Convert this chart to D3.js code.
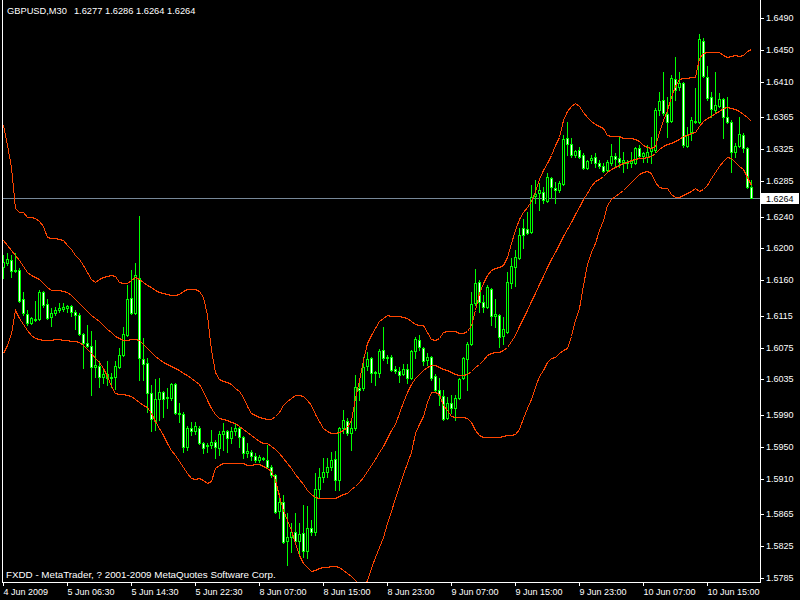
<!DOCTYPE html>
<html><head><meta charset="utf-8">
<script src="https://cdn.jsdelivr.net/npm/d3@7"></script>
<style>
html,body{margin:0;padding:0;background:#000;}
svg{display:block;}
</style></head><body>
<svg id="c" width="800" height="600"></svg>
<script>
const symbol = "GBPUSD,M30";
const footer = "FXDD - MetaTrader, ? 2001-2009 MetaQuotes Software Corp.";

const openP = [
1.6177,1.6182,1.6185,1.6173,1.6173,1.6136,1.6117,1.6106,1.6111,1.6111,
1.6145,1.6130,1.6114,1.6119,1.6122,1.6124,1.6125,1.6127,1.6120,1.6116,
1.6092,1.6081,1.6077,1.6051,1.6052,1.6038,1.6042,1.6037,1.6038,1.6051,
1.6066,1.6091,1.6138,1.6119,1.6163,1.6061,1.6056,1.6018,1.5983,1.6010,
1.6019,1.6012,1.6012,1.6029,1.5993,1.5991,1.5950,1.5974,1.5970,1.5974,
1.5955,1.5951,1.5952,1.5956,1.5949,1.5966,1.5970,1.5961,1.5970,1.5974,
1.5962,1.5942,1.5944,1.5938,1.5933,1.5936,1.5933,1.5925,1.5914,1.5869,
1.5880,1.5831,1.5836,1.5842,1.5831,1.5841,1.5819,1.5848,1.5843,1.5897,
1.5912,1.5918,1.5925,1.5935,1.5908,1.5974,1.5983,1.5967,1.5974,1.6024,
1.6024,1.6052,1.6062,1.6043,1.6043,1.6072,1.6063,1.6063,1.6048,1.6046,
1.6042,1.6048,1.6037,1.6071,1.6085,1.6075,1.6059,1.6063,1.6039,1.6022,
1.6014,1.5986,1.6005,1.5999,1.6012,1.6037,1.6061,1.6080,1.6131,1.6158,
1.6133,1.6126,1.6149,1.6115,1.6116,1.6090,1.6095,1.6156,1.6177,1.6188,
1.6226,1.6225,1.6221,1.6266,1.6270,1.6271,1.6260,1.6289,1.6276,1.6274,
1.6281,1.6339,1.6332,1.6318,1.6324,1.6318,1.6301,1.6311,1.6315,1.6308,
1.6304,1.6299,1.6308,1.6316,1.6314,1.6309,1.6309,1.6308,1.6308,1.6327,
1.6316,1.6315,1.6323,1.6324,1.6374,1.6387,1.6369,1.6361,1.6413,1.6403,
1.6408,1.6329,1.6347,1.6359,1.6359,1.6461,1.6416,1.6391,1.6374,1.6379,
1.6388,1.6366,1.6359,1.6322,1.6329,1.6343,1.6327,1.6277];

const highP = [
1.6192,1.6194,1.6192,1.6194,1.6175,1.6145,1.6122,1.6114,1.6134,1.6148,
1.6146,1.6136,1.6125,1.6126,1.6131,1.6131,1.6129,1.6129,1.6122,1.6119,
1.6093,1.6104,1.6096,1.6085,1.6058,1.6047,1.6058,1.6043,1.6058,1.6075,
1.6101,1.6154,1.6173,1.6182,1.6241,1.6087,1.6062,1.6028,1.6035,1.6037,
1.6020,1.6024,1.6031,1.6031,1.6005,1.5994,1.5976,1.5981,1.5981,1.5976,
1.5956,1.5955,1.5971,1.5959,1.5970,1.5980,1.5971,1.5975,1.5980,1.5975,
1.5964,1.5955,1.5946,1.5942,1.5940,1.5937,1.5952,1.5927,1.5916,1.5892,
1.5889,1.5867,1.5854,1.5867,1.5854,1.5877,1.5875,1.5858,1.5917,1.5923,
1.5936,1.5936,1.5944,1.5945,1.5975,1.5996,1.5986,1.5986,1.6040,1.6034,
1.6063,1.6070,1.6063,1.6046,1.6073,1.6101,1.6066,1.6066,1.6052,1.6051,
1.6054,1.6054,1.6072,1.6088,1.6091,1.6076,1.6068,1.6064,1.6042,1.6037,
1.6022,1.6013,1.6015,1.6015,1.6037,1.6063,1.6082,1.6145,1.6174,1.6160,
1.6141,1.6154,1.6150,1.6136,1.6117,1.6114,1.6170,1.6188,1.6198,1.6226,
1.6237,1.6246,1.6280,1.6286,1.6282,1.6277,1.6295,1.6290,1.6284,1.6285,
1.6343,1.6359,1.6339,1.6324,1.6328,1.6320,1.6311,1.6318,1.6320,1.6311,
1.6308,1.6311,1.6332,1.6320,1.6340,1.6322,1.6311,1.6322,1.6328,1.6330,
1.6322,1.6330,1.6340,1.6377,1.6397,1.6422,1.6391,1.6419,1.6441,1.6422,
1.6410,1.6353,1.6366,1.6402,1.6470,1.6465,1.6430,1.6397,1.6422,1.6396,
1.6390,1.6391,1.6362,1.6333,1.6366,1.6345,1.6328,1.6286];

const lowP = [
1.6163,1.6179,1.6164,1.6170,1.6133,1.6116,1.6104,1.6105,1.6109,1.6110,
1.6126,1.6111,1.6102,1.6116,1.6120,1.6121,1.6120,1.6115,1.6098,1.6091,
1.6049,1.6076,1.6015,1.6038,1.6025,1.6030,1.6028,1.6025,1.6023,1.6049,
1.6064,1.6090,1.6117,1.6117,1.6034,1.6034,1.5994,1.5970,1.5971,1.5984,
1.5988,1.5999,1.6009,1.5991,1.5981,1.5944,1.5946,1.5965,1.5966,1.5954,
1.5942,1.5944,1.5949,1.5936,1.5940,1.5946,1.5944,1.5955,1.5965,1.5950,
1.5936,1.5937,1.5933,1.5931,1.5931,1.5933,1.5923,1.5912,1.5867,1.5860,
1.5829,1.5801,1.5818,1.5829,1.5816,1.5811,1.5810,1.5839,1.5839,1.5887,
1.5906,1.5912,1.5921,1.5896,1.5896,1.5967,1.5965,1.5946,1.5971,1.6009,
1.6022,1.6047,1.6032,1.6028,1.6038,1.6059,1.6056,1.6046,1.6043,1.6032,
1.6040,1.6030,1.6035,1.6062,1.6072,1.6053,1.6053,1.6034,1.6020,1.6003,
1.5984,1.5985,1.5993,1.5984,1.6010,1.6035,1.6022,1.6078,1.6129,1.6120,
1.6120,1.6125,1.6104,1.6101,1.6076,1.6080,1.6093,1.6150,1.6153,1.6187,
1.6201,1.6218,1.6219,1.6257,1.6248,1.6257,1.6258,1.6264,1.6257,1.6271,
1.6280,1.6318,1.6315,1.6315,1.6314,1.6300,1.6300,1.6308,1.6303,1.6301,
1.6296,1.6296,1.6305,1.6303,1.6303,1.6296,1.6301,1.6303,1.6306,1.6315,
1.6309,1.6309,1.6308,1.6322,1.6368,1.6368,1.6340,1.6359,1.6387,1.6400,
1.6328,1.6328,1.6337,1.6358,1.6358,1.6416,1.6387,1.6366,1.6372,1.6378,
1.6339,1.6358,1.6296,1.6315,1.6328,1.6322,1.6276,1.6264];

const closeP = [
1.6183,1.6187,1.6172,1.6172,1.6134,1.6119,1.6106,1.6112,1.6110,1.6145,
1.6129,1.6112,1.6119,1.6122,1.6125,1.6126,1.6127,1.6120,1.6116,1.6092,
1.6081,1.6077,1.6051,1.6053,1.6038,1.6042,1.6037,1.6038,1.6052,1.6066,
1.6092,1.6136,1.6119,1.6167,1.6062,1.6054,1.6018,1.5985,1.6010,1.6019,
1.6010,1.6013,1.6029,1.5993,1.5991,1.5950,1.5974,1.5970,1.5976,1.5955,
1.5949,1.5952,1.5956,1.5950,1.5966,1.5970,1.5961,1.5970,1.5974,1.5962,
1.5942,1.5945,1.5938,1.5933,1.5937,1.5935,1.5925,1.5914,1.5868,1.5880,
1.5830,1.5836,1.5843,1.5831,1.5840,1.5819,1.5848,1.5843,1.5897,1.5912,
1.5918,1.5925,1.5933,1.5908,1.5974,1.5984,1.5967,1.5974,1.6025,1.6022,
1.6051,1.6061,1.6043,1.6044,1.6071,1.6062,1.6062,1.6047,1.6046,1.6040,
1.6048,1.6037,1.6071,1.6086,1.6076,1.6058,1.6063,1.6037,1.6022,1.6015,
1.5985,1.6005,1.5999,1.6012,1.6035,1.6062,1.6080,1.6130,1.6156,1.6133,
1.6126,1.6151,1.6115,1.6117,1.6088,1.6098,1.6158,1.6178,1.6189,1.6217,
1.6217,1.6219,1.6265,1.6269,1.6274,1.6261,1.6290,1.6277,1.6274,1.6282,
1.6338,1.6332,1.6318,1.6323,1.6315,1.6301,1.6310,1.6314,1.6308,1.6304,
1.6298,1.6309,1.6316,1.6313,1.6309,1.6311,1.6308,1.6310,1.6327,1.6316,
1.6320,1.6322,1.6327,1.6374,1.6386,1.6371,1.6359,1.6415,1.6400,1.6408,
1.6330,1.6343,1.6362,1.6361,1.6464,1.6417,1.6390,1.6376,1.6381,1.6388,
1.6366,1.6359,1.6322,1.6329,1.6344,1.6327,1.6277,1.6264];

const upperBand = [
1.6356,1.6330,1.6303,1.6251,1.6246,1.6246,1.6240,1.6240,1.6238,1.6235,
1.6228,1.6214,1.6213,1.6213,1.6212,1.6211,1.6204,1.6199,1.6192,1.6187,
1.6179,1.6170,1.6162,1.6158,1.6162,1.6164,1.6165,1.6167,1.6165,1.6158,
1.6156,1.6156,1.6160,1.6164,1.6162,1.6158,1.6154,1.6151,1.6148,1.6145,
1.6144,1.6143,1.6141,1.6141,1.6143,1.6146,1.6149,1.6149,1.6149,1.6146,
1.6139,1.6116,1.6072,1.6044,1.6036,1.6033,1.6032,1.6029,1.6024,1.6020,
1.6013,1.6001,1.5993,1.5990,1.5988,1.5986,1.5985,1.5985,1.5989,1.5994,
1.6003,1.6008,1.6012,1.6015,1.6015,1.6014,1.6009,1.6003,1.5991,1.5983,
1.5974,1.5970,1.5967,1.5967,1.5969,1.5971,1.5975,1.5984,1.6012,1.6034,
1.6059,1.6081,1.6091,1.6100,1.6109,1.6112,1.6116,1.6115,1.6115,1.6115,
1.6114,1.6112,1.6109,1.6105,1.6104,1.6104,1.6095,1.6086,1.6085,1.6087,
1.6095,1.6096,1.6096,1.6096,1.6093,1.6093,1.6096,1.6104,1.6122,1.6144,
1.6156,1.6167,1.6173,1.6175,1.6177,1.6179,1.6189,1.6207,1.6223,1.6237,
1.6246,1.6252,1.6260,1.6272,1.6288,1.6299,1.6308,1.6318,1.6330,1.6340,
1.6362,1.6373,1.6379,1.6383,1.6379,1.6372,1.6366,1.6361,1.6357,1.6354,
1.6352,1.6343,1.6342,1.6342,1.6342,1.6339,1.6339,1.6339,1.6338,1.6335,
1.6330,1.6328,1.6327,1.6329,1.6347,1.6362,1.6374,1.6391,1.6405,1.6414,
1.6415,1.6415,1.6416,1.6416,1.6440,1.6446,1.6448,1.6448,1.6448,1.6448,
1.6444,1.6441,1.6442,1.6444,1.6442,1.6444,1.6449,1.6451];

const middleBand = [
1.6211,1.6204,1.6198,1.6192,1.6185,1.6178,1.6170,1.6167,1.6164,1.6162,
1.6156,1.6151,1.6148,1.6148,1.6148,1.6146,1.6145,1.6141,1.6136,1.6131,
1.6126,1.6121,1.6116,1.6112,1.6109,1.6104,1.6098,1.6095,1.6090,1.6087,
1.6085,1.6085,1.6086,1.6086,1.6085,1.6080,1.6075,1.6070,1.6064,1.6061,
1.6057,1.6054,1.6052,1.6049,1.6047,1.6043,1.6041,1.6037,1.6033,1.6029,
1.6020,1.6009,1.5999,1.5991,1.5986,1.5985,1.5984,1.5981,1.5980,1.5976,
1.5973,1.5969,1.5965,1.5961,1.5957,1.5955,1.5955,1.5951,1.5947,1.5942,
1.5936,1.5930,1.5923,1.5916,1.5910,1.5903,1.5896,1.5891,1.5887,1.5886,
1.5886,1.5886,1.5886,1.5886,1.5888,1.5891,1.5892,1.5897,1.5901,1.5906,
1.5912,1.5920,1.5927,1.5935,1.5944,1.5951,1.5961,1.5971,1.5979,1.5993,
1.6007,1.6019,1.6029,1.6037,1.6042,1.6047,1.6051,1.6053,1.6053,1.6051,
1.6048,1.6047,1.6044,1.6042,1.6041,1.6041,1.6042,1.6046,1.6051,1.6054,
1.6059,1.6066,1.6068,1.6070,1.6070,1.6072,1.6076,1.6083,1.6091,1.6102,
1.6112,1.6122,1.6134,1.6144,1.6155,1.6165,1.6177,1.6187,1.6196,1.6206,
1.6216,1.6225,1.6233,1.6243,1.6252,1.6262,1.6270,1.6279,1.6285,1.6288,
1.6291,1.6296,1.6300,1.6303,1.6305,1.6308,1.6309,1.6311,1.6313,1.6314,
1.6314,1.6315,1.6316,1.6320,1.6325,1.6329,1.6332,1.6333,1.6335,1.6338,
1.6342,1.6343,1.6345,1.6347,1.6354,1.6361,1.6364,1.6367,1.6371,1.6373,
1.6377,1.6378,1.6377,1.6376,1.6373,1.6369,1.6366,1.6361];

const lowerBand = [
1.6068,1.6078,1.6093,1.6122,1.6112,1.6105,1.6097,1.6091,1.6087,1.6086,
1.6085,1.6085,1.6085,1.6086,1.6086,1.6085,1.6085,1.6083,1.6083,1.6082,
1.6078,1.6073,1.6068,1.6062,1.6057,1.6049,1.6039,1.6027,1.6018,1.6017,
1.6017,1.6015,1.6014,1.6010,1.6007,1.6003,1.6000,1.5993,1.5983,1.5974,
1.5965,1.5955,1.5946,1.5940,1.5932,1.5925,1.5917,1.5911,1.5910,1.5911,
1.5908,1.5904,1.5907,1.5923,1.5927,1.5930,1.5930,1.5930,1.5930,1.5930,
1.5930,1.5927,1.5927,1.5928,1.5928,1.5926,1.5923,1.5920,1.5908,1.5888,
1.5870,1.5858,1.5845,1.5829,1.5814,1.5804,1.5799,1.5794,1.5795,1.5797,
1.5799,1.5799,1.5800,1.5800,1.5799,1.5795,1.5791,1.5787,1.5782,1.5775,
1.5772,1.5782,1.5797,1.5811,1.5824,1.5836,1.5854,1.5869,1.5886,1.5901,
1.5916,1.5930,1.5944,1.5967,1.5979,1.5989,1.6007,1.6019,1.6019,1.6017,
1.6003,1.5996,1.5989,1.5988,1.5988,1.5988,1.5986,1.5981,1.5971,1.5965,
1.5962,1.5962,1.5962,1.5962,1.5962,1.5964,1.5965,1.5965,1.5966,1.5973,
1.5986,1.5999,1.6010,1.6025,1.6039,1.6047,1.6057,1.6062,1.6063,1.6068,
1.6072,1.6075,1.6090,1.6110,1.6125,1.6154,1.6180,1.6196,1.6207,1.6223,
1.6236,1.6255,1.6262,1.6266,1.6270,1.6274,1.6279,1.6284,1.6289,1.6294,
1.6296,1.6298,1.6295,1.6284,1.6277,1.6276,1.6276,1.6269,1.6265,1.6265,
1.6267,1.6270,1.6272,1.6276,1.6272,1.6275,1.6280,1.6289,1.6296,1.6304,
1.6310,1.6315,1.6314,1.6309,1.6304,1.6300,1.6290,1.6280];

const xTickBars = [0,16,32,48,64,80,96,112,128,144,160,176];
const xTickLabels = ["4 Jun 2009","5 Jun 06:30","5 Jun 14:30","5 Jun 22:30","8 Jun 07:00","8 Jun 15:00",
  "8 Jun 23:00","9 Jun 07:00","9 Jun 15:00","9 Jun 23:00","10 Jun 07:00","10 Jun 15:00"];
const yTickValues = [1.6490,1.6450,1.6410,1.6365,1.6325,1.6285,1.6240,1.6200,1.6160,1.6115,
  1.6075,1.6035,1.5990,1.5950,1.5910,1.5865,1.5825,1.5785];

const FONT = '"Liberation Sans", Arial, sans-serif';
const LIME = "#00ff00", BAND = "#ff4500", BIDLINE = "#778899";
const n = closeP.length;
const last = n - 1;
const fmt = d3.format(".4f");

const svg = d3.select("#c");
svg.append("rect").attr("width", 800).attr("height", 600).attr("fill", "#000");

const x = d3.scaleLinear().domain([0, last]).range([3, 751]).interpolate(d3.interpolateRound);
const y = d3.scaleLinear().domain([1.5785, 1.6490]).range([577.7, 18.3]).interpolate(d3.interpolateRound);

const PL = 2, PR = 760, PB = 582;

svg.append("defs").append("clipPath").attr("id", "clip")
  .append("rect").attr("x", PL + 1).attr("y", 0).attr("width", PR - PL - 1).attr("height", PB);

const plot = svg.append("g").attr("clip-path", "url(#clip)");

// bid line
const bid = closeP[last];
plot.append("line")
  .attr("x1", PL).attr("x2", PR)
  .attr("y1", y(bid) + 0.5).attr("y2", y(bid) + 0.5)
  .attr("stroke", BIDLINE).attr("stroke-width", 1).attr("shape-rendering", "crispEdges");

// candles
const idx = d3.range(n);
const cg = plot.append("g").attr("shape-rendering", "crispEdges");
const candle = cg.selectAll("g.c").data(idx).join("g").attr("class", "c");
candle.append("rect")
  .attr("x", i => x(i)).attr("width", 1)
  .attr("y", i => y(highP[i]))
  .attr("height", i => y(lowP[i]) - y(highP[i]) + 1)
  .attr("fill", LIME);
candle.each(function(i) {
  const g = d3.select(this);
  const top = y(Math.max(openP[i], closeP[i]));
  const bot = y(Math.min(openP[i], closeP[i]));
  if (bot - top < 1) {
    g.append("rect").attr("x", x(i) - 1).attr("y", top).attr("width", 3).attr("height", 1).attr("fill", LIME);
  } else {
    const bear = closeP[i] < openP[i];
    g.append("rect")
      .attr("x", x(i) - 0.5).attr("y", top + 0.5)
      .attr("width", 2).attr("height", bot - top)
      .attr("fill", bear ? "#ffffff" : "#000000")
      .attr("stroke", LIME).attr("stroke-width", 1);
  }
});

// Bollinger bands
const line = d3.line().x((d, i) => x(i) + 0.5).y(d => y(d) + 0.5);
[upperBand, middleBand, lowerBand].forEach(b => {
  plot.append("path").datum(b).attr("d", line)
    .attr("fill", "none").attr("stroke", BAND).attr("stroke-width", 1)
    .attr("shape-rendering", "crispEdges");
});

// frame
const frame = svg.append("g").attr("stroke", "#fff").attr("stroke-width", 1).attr("shape-rendering", "crispEdges");
frame.append("line").attr("x1", PL + 0.5).attr("x2", PL + 0.5).attr("y1", 0).attr("y2", PB + 1);
frame.append("line").attr("x1", PR + 0.5).attr("x2", PR + 0.5).attr("y1", 0).attr("y2", PB + 1);
frame.append("line").attr("x1", PL).attr("x2", PR + 1).attr("y1", PB + 0.5).attr("y2", PB + 0.5);

// y axis
const yAxis = svg.append("g").attr("transform", `translate(${PR + 1},0)`)
  .call(d3.axisRight(y).tickValues(yTickValues).tickFormat(fmt).tickSize(3).tickPadding(2));
yAxis.select(".domain").remove();
yAxis.selectAll("line").attr("stroke", "#fff").attr("shape-rendering", "crispEdges");
yAxis.selectAll("text").attr("fill", "#fff").attr("font-family", FONT).attr("font-size", "9px");

// x axis
const xAxis = svg.append("g").attr("transform", `translate(0,${PB + 1})`)
  .call(d3.axisBottom(x).tickValues(xTickBars).tickFormat((d, i) => xTickLabels[i]).tickSize(3));
xAxis.select(".domain").remove();
xAxis.selectAll("line").attr("stroke", "#fff").attr("shape-rendering", "crispEdges");
xAxis.selectAll("text").attr("fill", "#fff").attr("font-family", FONT).attr("font-size", "9px")
  .attr("text-anchor", "start").attr("x", 0).attr("y", 12).attr("dy", 0);

// bid label
const by = y(bid);
svg.append("rect").attr("x", PR + 1).attr("y", by - 5).attr("width", 38).attr("height", 11).attr("fill", "#fff");
svg.append("text").attr("x", PR + 6).attr("y", by + 3.5).attr("fill", "#000")
  .attr("font-family", FONT).attr("font-size", "9px").text(fmt(bid));

// header & footer
const header = svg.append("text").attr("x", 7).attr("y", 14).attr("fill", "#fff")
  .attr("font-family", FONT).attr("font-size", "9.3px");
header.append("tspan").text(symbol);
header.append("tspan").attr("dx", 7)
  .text(`${fmt(openP[last])} ${fmt(highP[last])} ${fmt(lowP[last])} ${fmt(closeP[last])}`);
svg.append("text").attr("x", 6).attr("y", 578).attr("fill", "#fff")
  .attr("font-family", FONT).attr("font-size", "9.8px").text(footer);
</script>
</body></html>
